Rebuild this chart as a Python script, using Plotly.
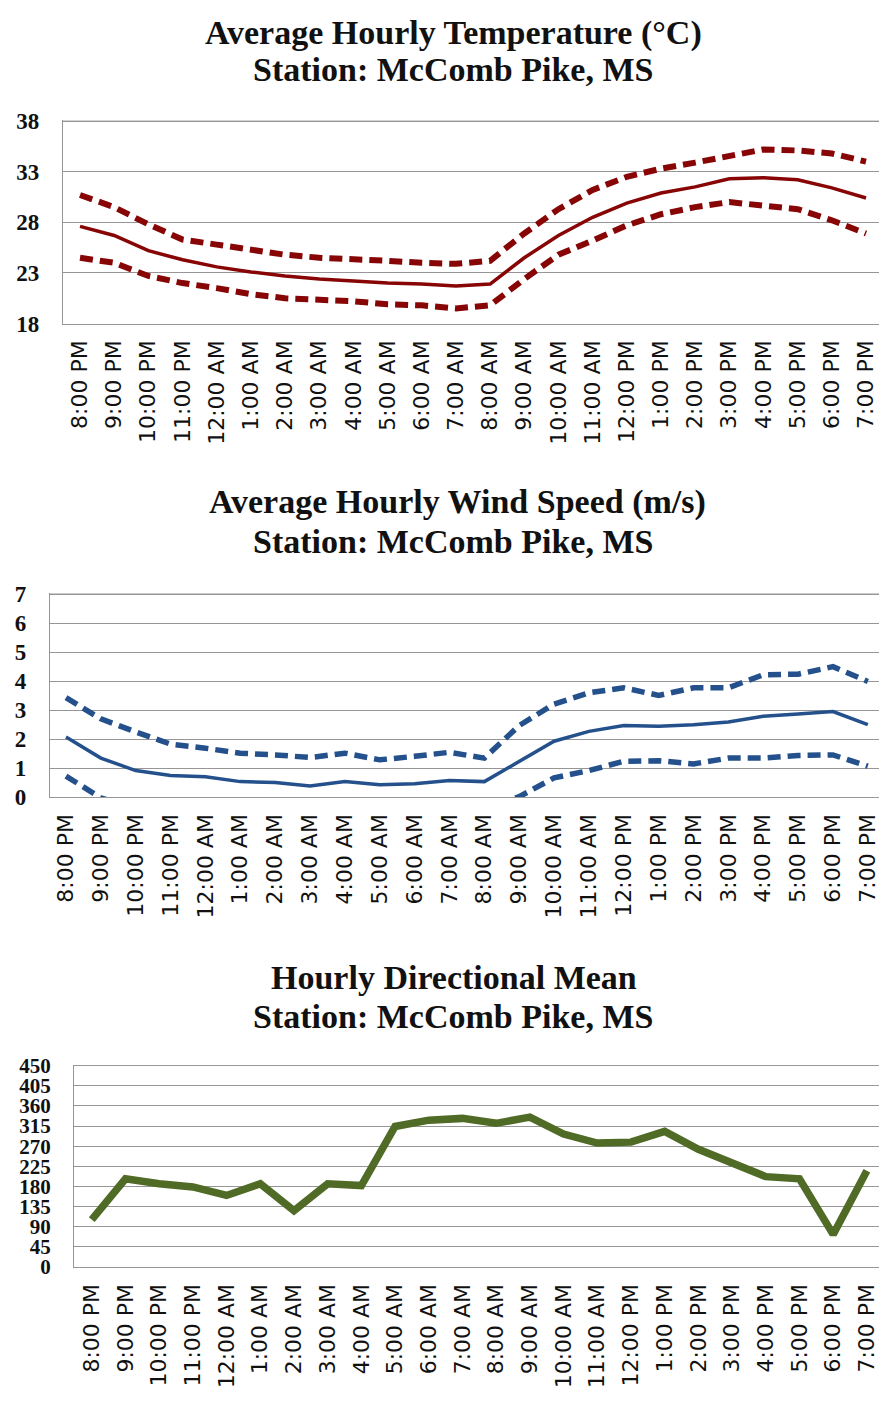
import plotly.graph_objects as go

hours = ["8:00 PM", "9:00 PM", "10:00 PM", "11:00 PM", "12:00 AM", "1:00 AM",
         "2:00 AM", "3:00 AM", "4:00 AM", "5:00 AM", "6:00 AM", "7:00 AM",
         "8:00 AM", "9:00 AM", "10:00 AM", "11:00 AM", "12:00 PM", "1:00 PM",
         "2:00 PM", "3:00 PM", "4:00 PM", "5:00 PM", "6:00 PM", "7:00 PM"]

temp_mean = [27.6, 26.7, 25.2, 24.3, 23.6, 23.1, 22.7, 22.4, 22.2, 22.0, 21.9, 21.7,
             21.9, 24.5, 26.7, 28.5, 29.9, 30.9, 31.5, 32.3, 32.4, 32.2, 31.4, 30.4]
temp_upper = [30.7, 29.5, 27.8, 26.3, 25.8, 25.3, 24.8, 24.5, 24.4, 24.2, 24.0, 23.9,
              24.2, 26.9, 29.3, 31.2, 32.5, 33.3, 33.9, 34.6, 35.2, 35.1, 34.8, 34.0]
temp_lower = [24.5, 24.0, 22.7, 22.0, 21.5, 20.9, 20.5, 20.4, 20.2, 19.9, 19.8, 19.5,
              19.8, 22.4, 24.8, 26.2, 27.7, 28.8, 29.5, 30.0, 29.6, 29.3, 28.2, 26.9]

wind_mean = [2.08, 1.35, 0.92, 0.75, 0.71, 0.54, 0.51, 0.39, 0.54, 0.43, 0.47, 0.58,
             0.54, 1.24, 1.93, 2.27, 2.47, 2.45, 2.50, 2.59, 2.79, 2.87, 2.95, 2.50]
wind_upper = [3.43, 2.70, 2.25, 1.83, 1.69, 1.52, 1.46, 1.37, 1.52, 1.29, 1.41, 1.55,
              1.35, 2.47, 3.21, 3.60, 3.77, 3.51, 3.77, 3.77, 4.22, 4.24, 4.50, 3.99]
wind_lower = [0.73, -0.02, -0.4, -0.35, -0.3, -0.45, -0.45, -0.6, -0.45, -0.45, -0.45, -0.4,
              -0.4, 0.02, 0.67, 0.92, 1.24, 1.26, 1.15, 1.35, 1.35, 1.44, 1.46, 1.07]

dir_mean = [106, 197, 186, 179, 160, 186, 126, 186, 182, 314, 328, 332,
            321, 335, 297, 277, 279, 303, 263, 233, 202, 197, 73, 215]

temp_ticks = [18, 23, 28, 33, 38]

W, H = 880, 1401
RED = "#870505"
BLUE = "#24508b"
GREEN = "#4f6b26"
GRID = "#969696"

fig = go.Figure()

def add(y, ax, color, width, dash=None):
    line = dict(color=color, width=width)
    if dash:
        line["dash"] = dash
    fig.add_trace(go.Scatter(
        x=hours, y=y, mode="lines", xaxis="x" + ax, yaxis="y" + ax,
        line=line, showlegend=False, hoverinfo="skip"))

add(temp_upper, "", RED, 6, "13px,7px")
add(temp_lower, "", RED, 6, "13px,7px")
add(temp_mean, "", RED, 3.5)
add(wind_upper, "2", BLUE, 5.5, "13px,7px")
add(wind_lower, "2", BLUE, 5.5, "13px,7px")
add(wind_mean, "2", BLUE, 3.5)
add(dir_mean, "3", GREEN, 7.5)

def py(px):
    return 1 - px / H

xfont = dict(family="DejaVu Sans", size=22, color="#111")

def xax(left, rng, anchor):
    return dict(domain=[left / W, 1], range=rng, anchor=anchor, type="category",
                tickangle=-90, tickfont=xfont, showgrid=False, showline=True,
                linecolor=GRID, linewidth=1, ticks="", ticklabelstandoff=7,
                fixedrange=True)

def yax(top, bottom, rng, anchor, fsize=23, **kw):
    d = dict(domain=[py(bottom), py(top)], range=rng, anchor=anchor,
             tickfont=dict(family="Liberation Serif", size=fsize, color="#111", weight="bold"),
             showgrid=True, gridcolor=GRID, gridwidth=1, showline=True,
             linecolor=GRID, linewidth=1, ticks="", ticklabelstandoff=18,
             zeroline=False, fixedrange=True)
    d.update(kw)
    return d

ann = []
def title(text, x, ypx, size=34):
    ann.append(dict(text="<b>" + text + "</b>", x=x / W, y=py(ypx), xref="paper", yref="paper",
                    xanchor="center", yanchor="middle", showarrow=False,
                    font=dict(family="Liberation Serif", size=size, color="#111")))

title("Average Hourly Temperature (°C)", 454, 22)
title("Station: McComb Pike, MS", 454, 60)
title("Average Hourly Wind Speed (m/s)", 458, 500)
title("Station: McComb Pike, MS", 454, 540)
title("Hourly Directional Mean", 455, 983)
title("Station: McComb Pike, MS", 454, 1023)

# top gridlines at the upper end of each value axis
shapes = []
for xr, yr, yv in [("x", "y", 38), ("x2", "y2", 7), ("x3", "y3", 450)]:
    shapes.append(dict(type="line", xref=xr + " domain", yref=yr, x0=0, x1=1, y0=yv, y1=yv,
                       line=dict(color=GRID, width=1), layer="below"))

fig.update_layout(
    width=W, height=H, margin=dict(l=0, r=0, t=0, b=0),
    paper_bgcolor="white", plot_bgcolor="white",
    xaxis=xax(63, [-0.5, 23.38], "y"),
    yaxis=yax(111, 318, [18, 38.1], "x", tickvals=temp_ticks),
    xaxis2=xax(50, [-0.46, 23.32], "y2"),
    yaxis2=yax(592, 800, [0, 7.04], "x2", dtick=1, tick0=0),
    xaxis3=xax(74, [-0.53, 23.36], "y3"),
    yaxis3=yax(1072, 1278, [0, 452], "x3", fsize=21, dtick=45, tick0=0),
    annotations=ann,
    shapes=shapes,
)

fig.write_html("out.html")
